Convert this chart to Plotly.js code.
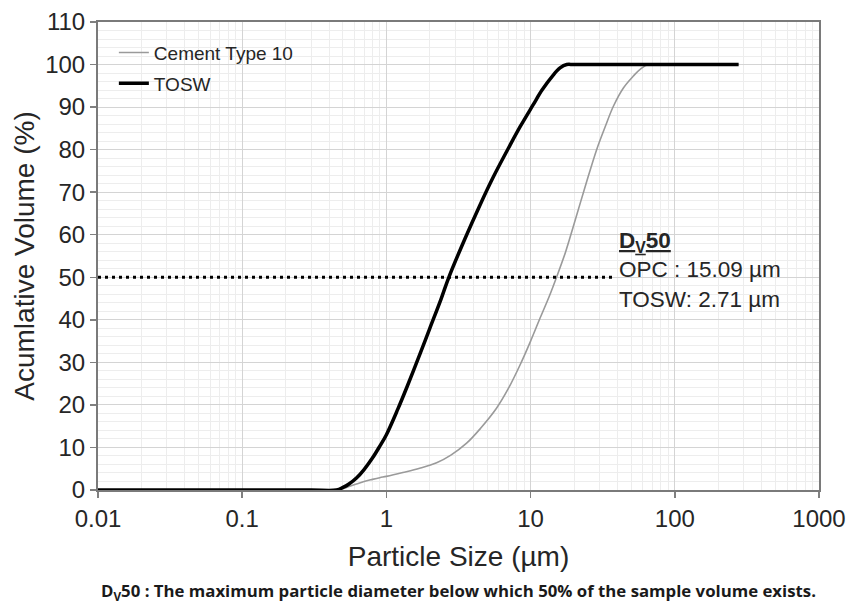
<!DOCTYPE html>
<html>
<head>
<meta charset="utf-8">
<script src="https://cdn.plot.ly/plotly-3.0.1.min.js"></script>
<style>html,body{margin:0;padding:0;background:#fff;}</style>
</head>
<body>
<div id="chart" style="width:851px;height:604px;"></div>
<script>
// Particle size (µm) and cumulative volume (%)
var cementSize = [0.01, 0.3, 0.47, 0.5, 0.55, 0.62, 0.7, 0.8, 0.9, 1.0, 1.3, 1.7, 2.23, 2.8, 3.6, 4.5, 5.8, 7.0, 8.4, 10, 11.6, 13.5, 15.2, 17.5, 19.8, 24, 28.7, 33, 37.5, 44, 51.6, 58, 65.6, 100, 277];
var cementVol  = [0, 0, 0, 0.3, 0.8, 1.4, 2.0, 2.5, 2.9, 3.2, 4.1, 5.1, 6.4, 8.2, 11, 14.5, 19.2, 23.8, 29.2, 35, 40.3, 45.6, 50.2, 56, 62, 71.5, 80, 85.5, 90.2, 94.5, 97.3, 99, 100, 100, 100];

var toswSize = [0.01, 0.1, 0.3, 0.45, 0.5, 0.55, 0.62, 0.7, 0.8, 0.9, 1.0, 1.2, 1.4, 1.71, 2.0, 2.4, 2.71, 3.5, 4.46, 5.5, 7.19, 8.5, 10.4, 12, 14.4, 16, 17.8, 20, 50, 100, 277];
var toswVol  = [0, 0, 0, 0, 0.6, 1.4, 2.8, 4.8, 7.5, 10.3, 13, 19, 24.5, 32, 38, 45, 50, 59, 67, 73.5, 81, 85.5, 90.5, 94, 97.6, 99.2, 100, 100, 100, 100, 100];

var d50LineSize = [0.01, 36.7];
var d50LineVol  = [50, 50];

var seriesNames = ['Cement Type 10', 'TOSW'];
var xTickVals = [0.01, 0.1, 1, 10, 100, 1000];
var xTickText = ['0.01', '0.1', '1', '10', '100', '1000'];

var txt = '#262626';
var font = 'Liberation Sans, Arial, sans-serif';

var traces = [
  {x: cementSize, y: cementVol, name: seriesNames[0], type: 'scatter', mode: 'lines',
   line: {color: '#9a9a9a', width: 1.6, shape: 'spline', smoothing: 1}, legendgroup: 'a'},
  {x: toswSize, y: toswVol, name: seriesNames[1], type: 'scatter', mode: 'lines',
   line: {color: '#000000', width: 3.5, shape: 'spline', smoothing: 1}, legendgroup: 'b'},
  {x: d50LineSize, y: d50LineVol, type: 'scatter', mode: 'lines', showlegend: false,
   line: {color: '#000000', width: 3, dash: '3px,4px'}}
];

var layout = {
  width: 851, height: 604,
  margin: {l: 98, r: 32, t: 22, b: 114},
  paper_bgcolor: '#ffffff', plot_bgcolor: '#ffffff',
  font: {family: font, color: txt},
  showlegend: true,
  legend: {x: 0.022, y: 0.975, xanchor: 'left', yanchor: 'top', bgcolor: 'rgba(0,0,0,0)',
           font: {size: 19, color: txt}, traceorder: 'grouped', tracegroupgap: 3},
  xaxis: {
    type: 'log', range: [-2, 3],
    tickvals: xTickVals, ticktext: xTickText,
    ticks: 'outside', ticklen: 6, tickcolor: '#808080', tickwidth: 1.5,
    tickfont: {size: 24, color: txt},
    showline: true, linecolor: '#7a7a7a', linewidth: 2, mirror: true,
    showgrid: true, gridcolor: '#d4d4d4', gridwidth: 1,
    minor: {dtick: 'D1', showgrid: true, gridcolor: '#ededed', gridwidth: 1, ticks: ''},
    zeroline: false,
    title: {text: 'Particle Size (µm)', font: {size: 28, color: txt}, standoff: 16}
  },
  yaxis: {
    range: [0, 110], dtick: 10,
    ticks: 'outside', ticklen: 6, tickcolor: '#808080', tickwidth: 1.5,
    tickfont: {size: 24, color: txt},
    showline: true, linecolor: '#7a7a7a', linewidth: 2, mirror: true,
    showgrid: true, gridcolor: '#d4d4d4', gridwidth: 1,
    minor: {dtick: 2, showgrid: true, gridcolor: '#ededed', gridwidth: 1, ticks: ''},
    zeroline: false,
    title: {text: 'Acumlative Volume (%)', font: {size: 28, color: txt}, standoff: 2}
  },
  annotations: [
    {xref: 'paper', yref: 'paper', x: 0.72, y: 0.47, xanchor: 'left', yanchor: 'middle',
     align: 'left', showarrow: false, font: {size: 22.5, color: txt},
     text: '<b><u>D<sub>V</sub>50</u></b><br>OPC : 15.09 µm<br>TOSW: 2.71 µm'},
    {xref: 'paper', yref: 'paper', x: 0.5, y: -0.216, xanchor: 'center', yanchor: 'middle',
     showarrow: false, font: {size: 16.8, color: '#1a1a1a', family: 'Open Sans, sans-serif', weight: 'bold'},
     text: '<b>D<sub>V</sub>50 : The maximum particle diameter below which 50% of the sample volume exists.</b>'}
  ]
};

Plotly.newPlot('chart', traces, layout, {displayModeBar: false, staticPlot: true});
</script>
</body>
</html>
